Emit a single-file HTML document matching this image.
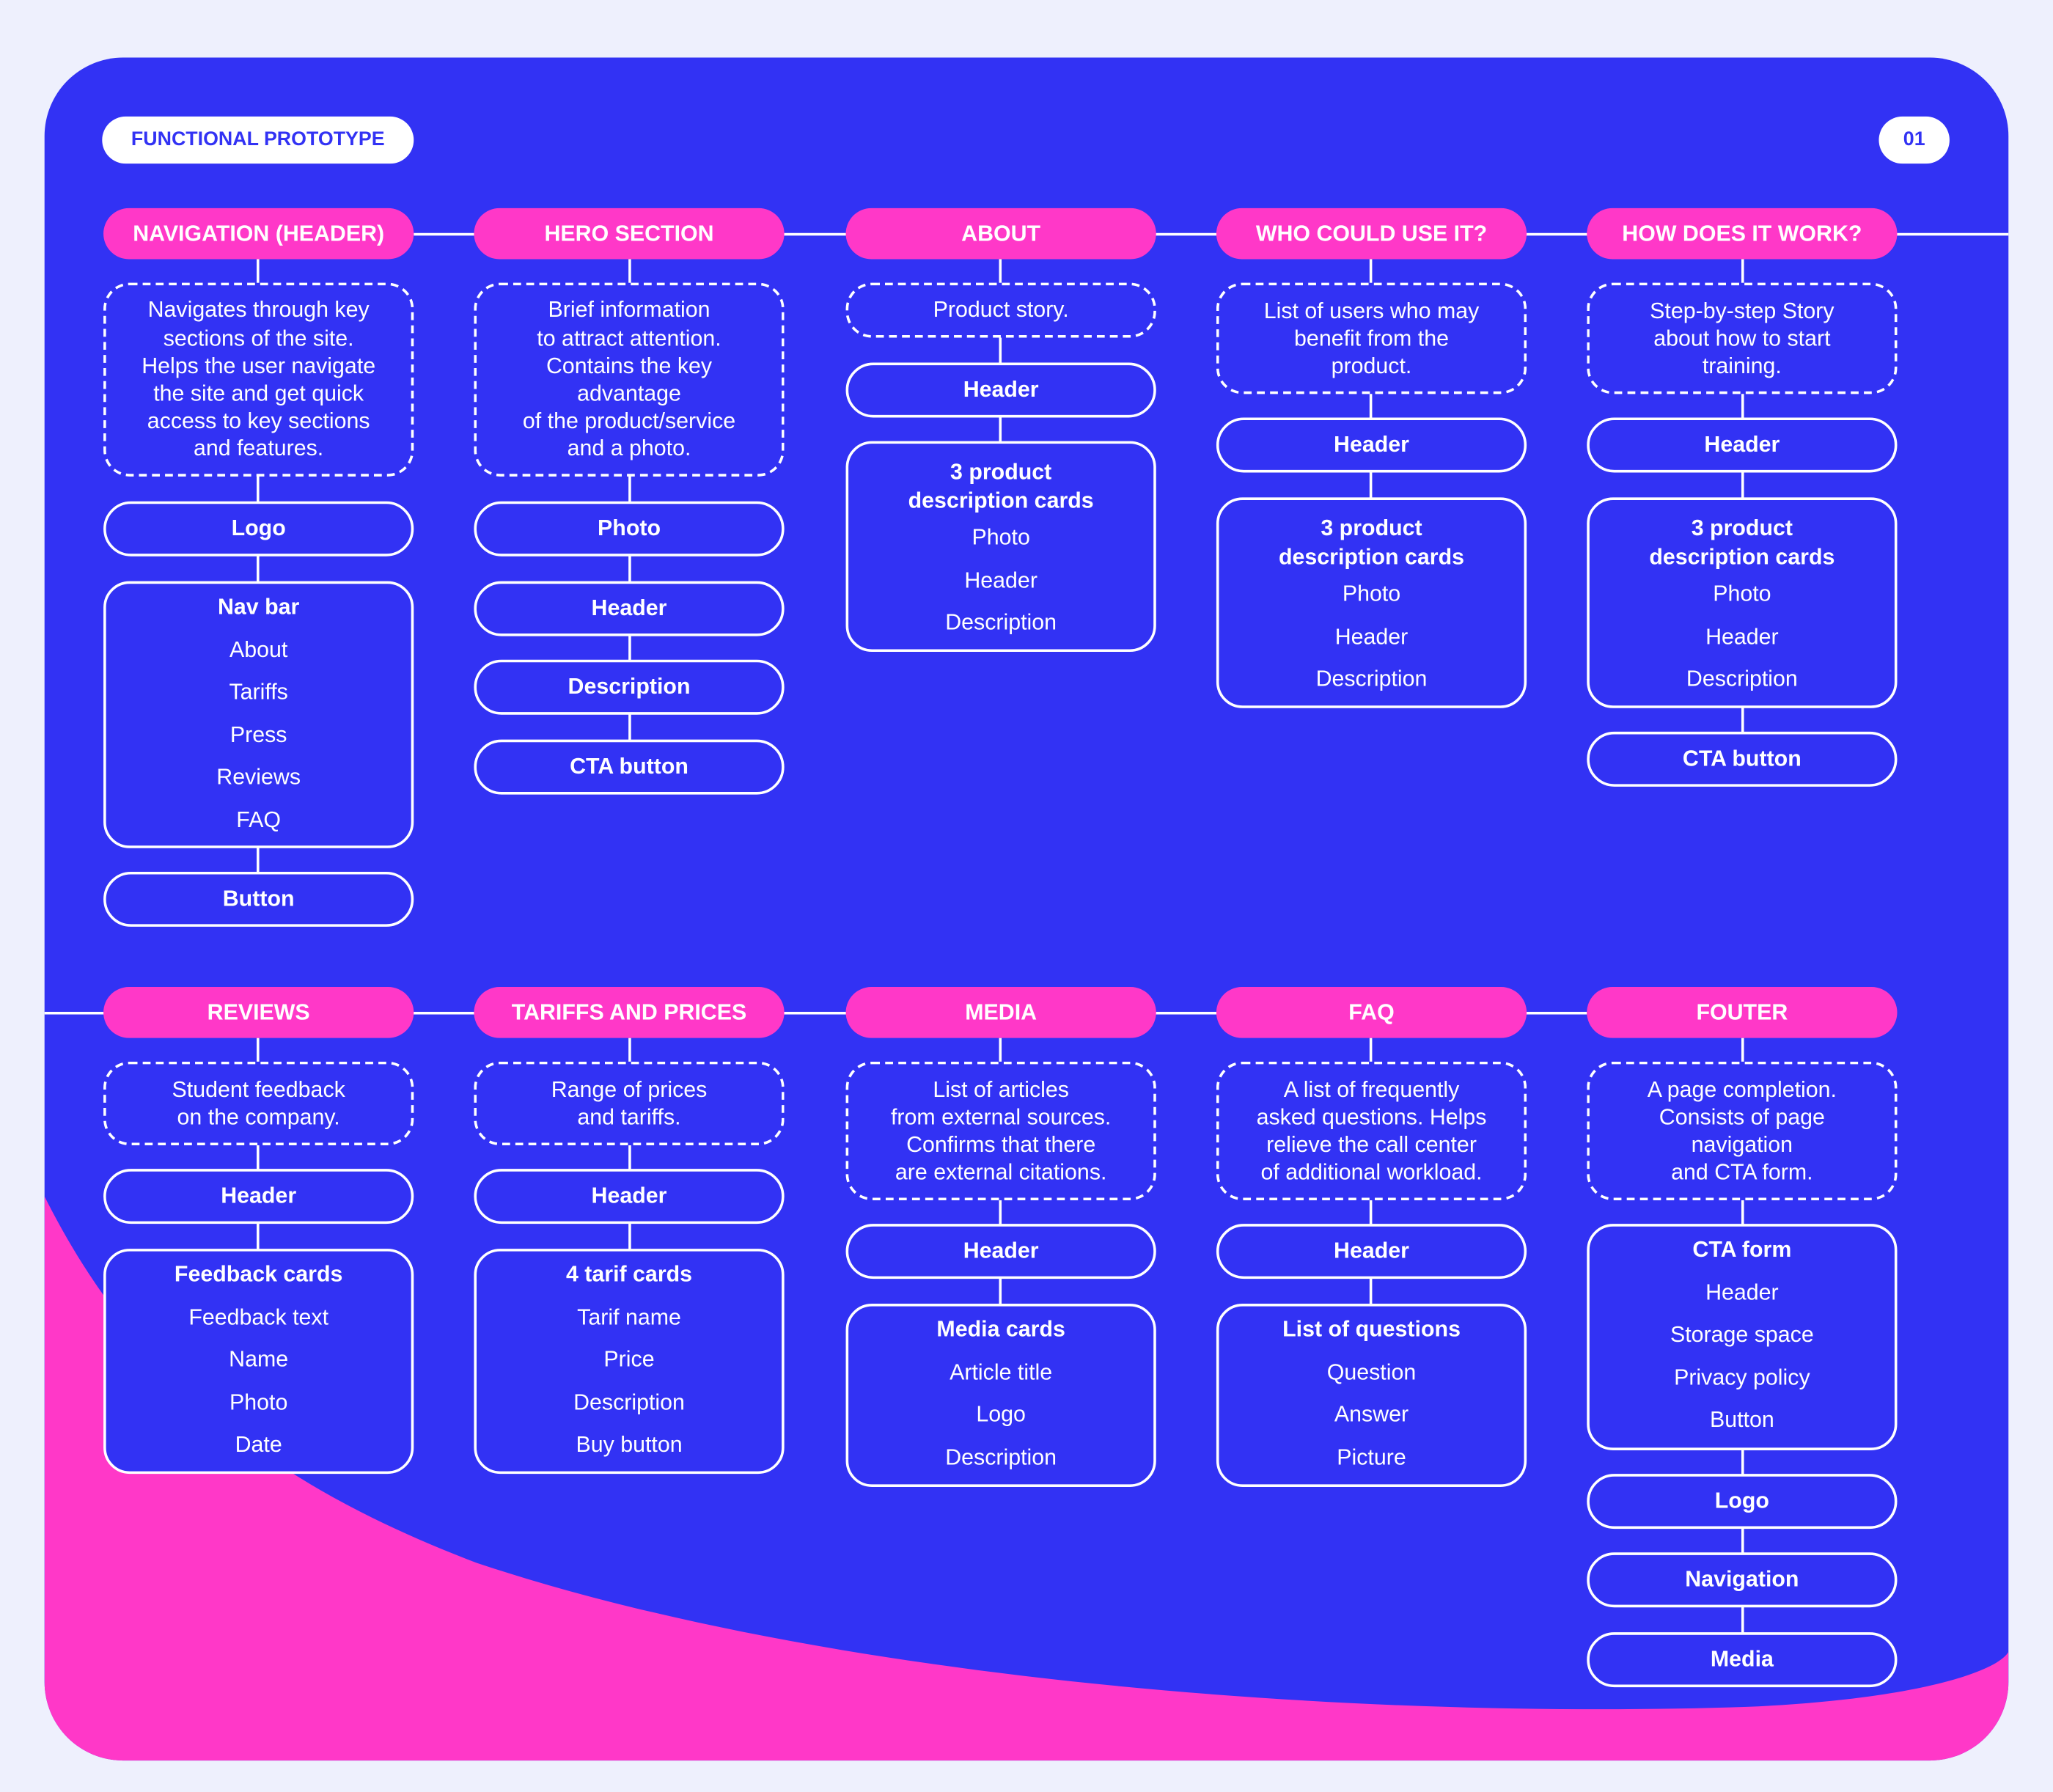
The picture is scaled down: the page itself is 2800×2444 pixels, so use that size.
<!DOCTYPE html>
<html><head><meta charset="utf-8"><style>
html,body{margin:0;padding:0;background:#eef0fd;width:2800px;height:2444px;overflow:hidden}
#w{position:absolute;left:0;top:0;width:1568px;height:1369px;transform:scale(1.7857,1.7852);transform-origin:0 0;font-family:"Liberation Sans",sans-serif;color:#fff}
#card{position:absolute;left:34px;top:44px;width:1500px;height:1301px;border-radius:60px;background:#3232f4;overflow:hidden}
.a{position:absolute;box-sizing:border-box}
.hd{background:#ff38c8;border-radius:20px;height:39px;width:237px;font-weight:bold;font-size:17px;text-align:center;line-height:39px}
.ds{border:2px dashed #fff;border-radius:20px;background:#3232f4;width:237px;display:flex;align-items:center;justify-content:center;text-align:center;font-size:17px;line-height:21.2px}
.bx{border:2px solid #fff;border-radius:20px;background:#3232f4;width:237px;text-align:center;font-size:17px;line-height:32.5px;padding-top:2px}
.bx b{display:block}
.pl{border:2px solid #fff;border-radius:21px;background:#3232f4;width:237px;height:42px;text-align:center;font-weight:bold;font-size:17px;line-height:38px}
.vl{position:absolute;width:2px;background:#fff}
.hl{position:absolute;height:2px;background:#fff}
</style></head><body><div id="w">
<div id="card">
<svg width="1500" height="1301" style="position:absolute;left:0;top:0"><path d="M0,870 C80,1030 200,1100 330,1150 C600,1240 1000,1270 1300,1260 C1420,1255 1490,1235 1500,1218 L1500,1301 L0,1301 Z" fill="#ff38c8"/></svg>
</div>
<div class="a" style="left:78px;top:89px;width:238px;height:36px;border-radius:18px;background:#fff;color:#3232f4;font-weight:bold;font-size:15px;text-align:center;line-height:36px">FUNCTIONAL PROTOTYPE</div>
<div class="a" style="left:1435px;top:89px;width:54px;height:36px;border-radius:18px;background:#fff;color:#3232f4;font-weight:bold;font-size:15px;text-align:center;line-height:36px">01</div>

<div class="hl" style="left:316px;top:178px;width:1218px"></div>
<div class="hl" style="left:34px;top:773px;width:1178px"></div>

<div class="vl" style="left:196px;top:198px;height:470px"></div>
<div class="vl" style="left:480px;top:198px;height:370px"></div>
<div class="vl" style="left:763px;top:198px;height:140px"></div>
<div class="vl" style="left:1046px;top:198px;height:183px"></div>
<div class="vl" style="left:1330px;top:198px;height:362px"></div>
<div class="vl" style="left:196px;top:793px;height:162px"></div>
<div class="vl" style="left:480px;top:793px;height:162px"></div>
<div class="vl" style="left:763px;top:793px;height:204px"></div>
<div class="vl" style="left:1046px;top:793px;height:204px"></div>
<div class="vl" style="left:1330px;top:793px;height:455px"></div>

<!-- row 1 -->
<div class="a hd" style="left:79px;top:159px">NAVIGATION (HEADER)</div>
<div class="a ds" style="left:79px;top:216px;height:148px">Navigates through key<br>sections of the site.<br>Helps the user navigate<br>the site and get quick<br>access to key sections<br>and features.</div>
<div class="a pl" style="left:79px;top:383px">Logo</div>
<div class="a bx" style="left:79px;top:444px;height:204px"><b>Nav bar</b>About<br>Tariffs<br>Press<br>Reviews<br>FAQ</div>
<div class="a pl" style="left:79px;top:666px">Button</div>

<div class="a hd" style="left:362px;top:159px">HERO SECTION</div>
<div class="a ds" style="left:362px;top:216px;height:148px">Brief information<br>to attract attention.<br>Contains the key<br>advantage<br>of the product/service<br>and a photo.</div>
<div class="a pl" style="left:362px;top:383px">Photo</div>
<div class="a pl" style="left:362px;top:444px">Header</div>
<div class="a pl" style="left:362px;top:504px">Description</div>
<div class="a pl" style="left:362px;top:565px">CTA button</div>

<div class="a hd" style="left:646px;top:159px">ABOUT</div>
<div class="a ds" style="left:646px;top:216px;height:42px">Product story.</div>
<div class="a pl" style="left:646px;top:277px">Header</div>
<div class="a bx" style="left:646px;top:337px;height:161px"><b style="line-height:21.5px;padding-top:9px;padding-bottom:2px">3 product<br>description cards</b>Photo<br>Header<br>Description</div>

<div class="a hd" style="left:929px;top:159px">WHO COULD USE IT?</div>
<div class="a ds" style="left:929px;top:216px;height:85px">List of users who may<br>benefit from the<br>product.</div>
<div class="a pl" style="left:929px;top:319px">Header</div>
<div class="a bx" style="left:929px;top:380px;height:161px"><b style="line-height:21.5px;padding-top:9px;padding-bottom:2px">3 product<br>description cards</b>Photo<br>Header<br>Description</div>

<div class="a hd" style="left:1212px;top:159px">HOW DOES IT WORK?</div>
<div class="a ds" style="left:1212px;top:216px;height:85px">Step-by-step Story<br>about how to start<br>training.</div>
<div class="a pl" style="left:1212px;top:319px">Header</div>
<div class="a bx" style="left:1212px;top:380px;height:161px"><b style="line-height:21.5px;padding-top:9px;padding-bottom:2px">3 product<br>description cards</b>Photo<br>Header<br>Description</div>
<div class="a pl" style="left:1212px;top:559px">CTA button</div>

<!-- row 2 -->
<div class="a hd" style="left:79px;top:754px">REVIEWS</div>
<div class="a ds" style="left:79px;top:811px;height:64px">Student feedback<br>on the company.</div>
<div class="a pl" style="left:79px;top:893px">Header</div>
<div class="a bx" style="left:79px;top:954px;height:172px"><b>Feedback cards</b>Feedback text<br>Name<br>Photo<br>Date</div>

<div class="a hd" style="left:362px;top:754px">TARIFFS AND PRICES</div>
<div class="a ds" style="left:362px;top:811px;height:64px">Range of prices<br>and tariffs.</div>
<div class="a pl" style="left:362px;top:893px">Header</div>
<div class="a bx" style="left:362px;top:954px;height:172px"><b>4 tarif cards</b>Tarif name<br>Price<br>Description<br>Buy button</div>

<div class="a hd" style="left:646px;top:754px">MEDIA</div>
<div class="a ds" style="left:646px;top:811px;height:106px">List of articles<br>from external sources.<br>Confirms that there<br>are external citations.</div>
<div class="a pl" style="left:646px;top:935px">Header</div>
<div class="a bx" style="left:646px;top:996px;height:140px"><b>Media cards</b>Article title<br>Logo<br>Description</div>

<div class="a hd" style="left:929px;top:754px">FAQ</div>
<div class="a ds" style="left:929px;top:811px;height:106px">A list of frequently<br>asked questions. Helps<br>relieve the call center<br>of additional workload.</div>
<div class="a pl" style="left:929px;top:935px">Header</div>
<div class="a bx" style="left:929px;top:996px;height:140px"><b>List of questions</b>Question<br>Answer<br>Picture</div>

<div class="a hd" style="left:1212px;top:754px">FOUTER</div>
<div class="a ds" style="left:1212px;top:811px;height:106px">A page completion.<br>Consists of page<br>navigation<br>and CTA form.</div>
<div class="a bx" style="left:1212px;top:935px;height:173px"><b>CTA form</b>Header<br>Storage space<br>Privacy policy<br>Button</div>
<div class="a pl" style="left:1212px;top:1126px">Logo</div>
<div class="a pl" style="left:1212px;top:1186px">Navigation</div>
<div class="a pl" style="left:1212px;top:1247px">Media</div>
</div></body></html>
